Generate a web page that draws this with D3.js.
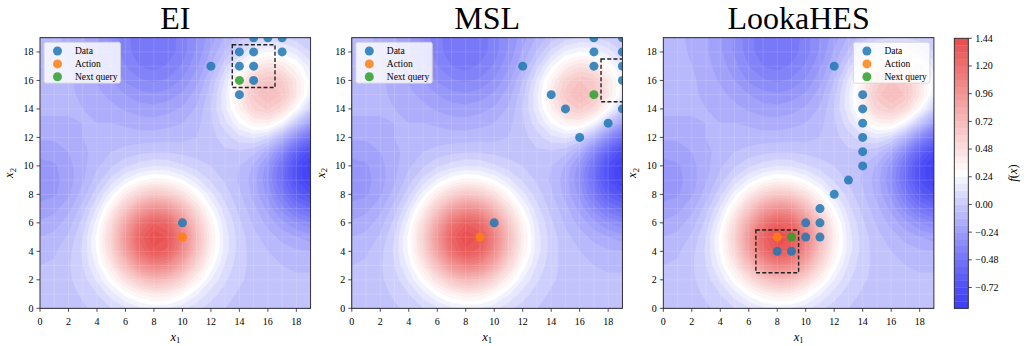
<!DOCTYPE html>
<html>
<head>
<meta charset="utf-8">
<script src="https://cdn.jsdelivr.net/npm/d3@7"></script>
<style>
  html, body { margin: 0; padding: 0; background: #fff; }
  svg { display: block; }
  text { font-family: "Liberation Serif", "DejaVu Serif", serif; fill: #000; }
</style>
</head>
<body>
<svg id="chart" width="1034" height="346"></svg>
<script>
// f(x) sampled on the integer grid x1 = 0..19 (columns), x2 = 0..19 (rows, bottom to top)
const fRows = [
  [-0.03,-0.03,-0.02,-0.01, 0.02, 0.06, 0.11, 0.16, 0.19, 0.18, 0.14, 0.08, 0.03, 0.00,-0.02,-0.03,-0.03,-0.03,-0.03,-0.03],
  [-0.03,-0.03,-0.02, 0.01, 0.06, 0.15, 0.26, 0.36, 0.41, 0.39, 0.30, 0.19, 0.09, 0.03,-0.01,-0.03,-0.03,-0.04,-0.04,-0.04],
  [-0.04,-0.04,-0.01, 0.03, 0.13, 0.28, 0.47, 0.64, 0.73, 0.69, 0.54, 0.35, 0.18, 0.07, 0.01,-0.02,-0.04,-0.04,-0.05,-0.05],
  [-0.06,-0.05,-0.01, 0.06, 0.20, 0.42, 0.70, 0.95, 1.08, 1.02, 0.81, 0.53, 0.28, 0.11, 0.02,-0.02,-0.04,-0.06,-0.07,-0.07],
  [-0.08,-0.07,-0.02, 0.07, 0.25, 0.53, 0.88, 1.20, 1.36, 1.29, 1.02, 0.67, 0.36, 0.15, 0.03,-0.03,-0.06,-0.09,-0.11,-0.12],
  [-0.12,-0.10,-0.05, 0.06, 0.26, 0.56, 0.94, 1.28, 1.44, 1.37, 1.09, 0.71, 0.38, 0.15, 0.03,-0.04,-0.09,-0.14,-0.18,-0.21],
  [-0.17,-0.15,-0.09, 0.02, 0.21, 0.50, 0.84, 1.15, 1.31, 1.24, 0.98, 0.64, 0.34, 0.13, 0.01,-0.07,-0.14,-0.22,-0.30,-0.35],
  [-0.22,-0.20,-0.14,-0.03, 0.13, 0.36, 0.63, 0.88, 1.00, 0.95, 0.75, 0.48, 0.25, 0.08,-0.02,-0.10,-0.20,-0.33,-0.46,-0.53],
  [-0.26,-0.25,-0.19,-0.09, 0.04, 0.21, 0.40, 0.56, 0.64, 0.60, 0.47, 0.30, 0.14, 0.03,-0.05,-0.14,-0.26,-0.44,-0.62,-0.72],
  [-0.27,-0.26,-0.21,-0.13,-0.03, 0.08, 0.19, 0.28, 0.33, 0.31, 0.24, 0.14, 0.05,-0.01,-0.07,-0.15,-0.30,-0.51,-0.72,-0.85],
  [-0.26,-0.25,-0.20,-0.14,-0.07,-0.01, 0.05, 0.09, 0.12, 0.11, 0.07, 0.03, 0.00,-0.03,-0.06,-0.13,-0.27,-0.49,-0.73,-0.87],
  [-0.22,-0.21,-0.18,-0.14,-0.09,-0.06,-0.04,-0.02,-0.01,-0.01,-0.02,-0.03,-0.03,-0.01,-0.01,-0.04,-0.15,-0.35,-0.59,-0.75],
  [-0.17,-0.17,-0.15,-0.12,-0.10,-0.09,-0.09,-0.09,-0.09,-0.08,-0.08,-0.06,-0.02, 0.03, 0.10, 0.13, 0.07,-0.10,-0.33,-0.51],
  [-0.13,-0.13,-0.13,-0.12,-0.12,-0.12,-0.13,-0.15,-0.15,-0.14,-0.12,-0.08,-0.01, 0.10, 0.24, 0.35, 0.36, 0.22,-0.01,-0.22],
  [-0.11,-0.11,-0.11,-0.12,-0.13,-0.16,-0.19,-0.21,-0.22,-0.20,-0.17,-0.11, 0.00, 0.16, 0.36, 0.55, 0.61, 0.51, 0.27, 0.03],
  [-0.09,-0.10,-0.11,-0.13,-0.16,-0.20,-0.24,-0.28,-0.29,-0.27,-0.23,-0.15,-0.02, 0.17, 0.41, 0.63, 0.73, 0.65, 0.43, 0.18],
  [-0.09,-0.10,-0.11,-0.14,-0.19,-0.24,-0.31,-0.35,-0.37,-0.35,-0.29,-0.20,-0.06, 0.13, 0.35, 0.56, 0.66, 0.61, 0.42, 0.21],
  [-0.09,-0.10,-0.12,-0.16,-0.21,-0.28,-0.36,-0.42,-0.44,-0.41,-0.35,-0.25,-0.12, 0.04, 0.22, 0.38, 0.47, 0.43, 0.30, 0.15],
  [-0.09,-0.10,-0.13,-0.17,-0.23,-0.31,-0.39,-0.46,-0.48,-0.45,-0.39,-0.29,-0.17,-0.05, 0.08, 0.19, 0.24, 0.22, 0.15, 0.06],
  [-0.09,-0.11,-0.13,-0.17,-0.23,-0.31,-0.40,-0.46,-0.48,-0.46,-0.39,-0.30,-0.21,-0.11,-0.03, 0.03, 0.07, 0.06, 0.03,-0.01]
];

const panelTitles = ["EI", "MSL", "LookaHES"];
const axisTicks = [0, 2, 4, 6, 8, 10, 12, 14, 16, 18];
const colorbarTicks = [-0.72, -0.48, -0.24, 0.00, 0.24, 0.48, 0.72, 0.96, 1.20, 1.44];
const legendLabels = ["Data", "Action", "Next query"];

// observed points, action and next query for each strategy
const eiData = [[15,19],[16,19],[17,19],[14,18],[15,18],[17,18],[12,17],[14,17],[15,17],[15,16],[14,15],[10,6]];
const eiAction = [10, 5];
const eiNext = [14, 16];
const eiBox = [13.5, 15.5, 16.5, 18.5];

const mslData = [[17,19],[19,19],[17,18],[19,18],[12,17],[17,17],[19,17],[19,16],[14,15],[15,14],[19,14],[18,13],[16,12],[10,6]];
const mslAction = [9, 5];
const mslNext = [17, 15];
const mslBox = [17.5, 14.5, 20.5, 17.5];

const lookaData = [[12,17],[14,15],[14,14],[14,13],[14,12],[14,11],[14,10],[13,9],[12,8],[11,7],[10,6],[11,6],[10,5],[11,5],[8,4],[9,4]];
const lookaAction = [8, 5];
const lookaNext = [9, 5];
const lookaBox = [6.5, 2.5, 9.5, 5.5];

const panels = [
  { title: panelTitles[0], data: eiData, action: eiAction, next: eiNext, box: eiBox, legend: "left" },
  { title: panelTitles[1], data: mslData, action: mslAction, next: mslNext, box: mslBox, legend: "left" },
  { title: panelTitles[2], data: lookaData, action: lookaAction, next: lookaNext, box: lookaBox, legend: "right" }
];

// ---- layout ----
const svg = d3.select("#chart");
const panelLeft = [40, 351.8, 663.3];
const plotTop = 37.7, plotSize = 270.6;
const cbar = { x: 954.3, w: 14, top: 38.3, bottom: 308.3 };
const pointColors = ["#1f77b4", "#ff7f0e", "#2ca02c"];

// contour levels and colours (blue - white - red, drawn semi-transparent over white)
const levels = d3.range(40).map(i => +(-0.90 + 0.06 * i).toFixed(2));
const vmin = levels[0], vmax = levels[levels.length - 1];
const blueEnd = d3.rgb(62, 62, 246), redEnd = d3.rgb(232, 76, 76), white = d3.rgb(255, 255, 255);
const cmap = t => {
  if (t < 0.5) return d3.interpolateRgb(blueEnd, white)(Math.pow(t / 0.5, 1.25));
  return d3.interpolateRgb(white, redEnd)((t - 0.5) / 0.5);
};
const bandColor = k => cmap(((levels[k] + levels[k + 1]) / 2 - vmin) / (vmax - vmin));

const nx = 20, ny = 20;
const gridValues = [];
for (let j = 0; j < ny; j++) for (let i = 0; i < nx; i++) gridValues.push(fRows[j][i]);
const contourGen = d3.contours().size([nx, ny]).thresholds(levels.slice(0, -1));
const contourSets = contourGen(gridValues);

panels.forEach((p, idx) => {
  const left = panelLeft[idx];
  const xs = d3.scaleLinear().domain([0, 19]).range([left, left + plotSize]);
  const ys = d3.scaleLinear().domain([0, 19]).range([plotTop + plotSize, plotTop]);
  const g = svg.append("g");
  const clipId = "clip" + idx;
  g.append("clipPath").attr("id", clipId).append("rect")
    .attr("x", left).attr("y", plotTop).attr("width", plotSize).attr("height", plotSize);

  const plot = g.append("g").attr("clip-path", `url(#${clipId})`);
  const proj = d3.geoTransform({
    point(x, y) { this.stream.point(xs(x - 0.5), ys(y - 0.5)); }
  });
  const path = d3.geoPath(proj);
  plot.append("g").selectAll("path").data(contourSets).join("path")
    .attr("d", path)
    .attr("fill", (d, k) => bandColor(k))
    .attr("stroke", (d, k) => bandColor(k))
    .attr("stroke-width", 0.3);

  // faint cell seams of the filled contour
  const seams = plot.append("g").attr("stroke", "#ffffff").attr("stroke-opacity", 0.16).attr("stroke-width", 0.9);
  d3.range(0, 19.01, 1).forEach(v => {
    seams.append("line").attr("x1", xs(v)).attr("x2", xs(v)).attr("y1", plotTop).attr("y2", plotTop + plotSize);
    seams.append("line").attr("y1", ys(v)).attr("y2", ys(v)).attr("x1", left).attr("x2", left + plotSize);
  });

  // markers
  const r = 4.5;
  plot.append("g").selectAll("circle").data(p.data).join("circle")
    .attr("cx", d => xs(d[0])).attr("cy", d => ys(d[1])).attr("r", r)
    .attr("fill", pointColors[0]).attr("fill-opacity", 0.85);
  plot.append("circle").attr("cx", xs(p.action[0])).attr("cy", ys(p.action[1])).attr("r", r)
    .attr("fill", pointColors[1]).attr("fill-opacity", 0.85);
  plot.append("circle").attr("cx", xs(p.next[0])).attr("cy", ys(p.next[1])).attr("r", r)
    .attr("fill", pointColors[2]).attr("fill-opacity", 0.85);

  // dashed neighbourhood box
  const [bx0, by0, bx1, by1] = p.box;
  plot.append("rect")
    .attr("x", xs(bx0)).attr("y", ys(by1))
    .attr("width", xs(bx1) - xs(bx0)).attr("height", ys(by0) - ys(by1))
    .attr("fill", "none").attr("stroke", "#222").attr("stroke-width", 1.4)
    .attr("stroke-dasharray", "4,2.2");

  // frame
  g.append("rect").attr("x", left).attr("y", plotTop).attr("width", plotSize).attr("height", plotSize)
    .attr("fill", "none").attr("stroke", "#222").attr("stroke-width", 0.9);

  // ticks
  const tk = g.append("g").attr("stroke", "#222").attr("stroke-width", 0.8);
  axisTicks.forEach(t => {
    tk.append("line").attr("x1", xs(t)).attr("x2", xs(t)).attr("y1", plotTop + plotSize).attr("y2", plotTop + plotSize + 3.5);
    tk.append("line").attr("y1", ys(t)).attr("y2", ys(t)).attr("x1", left).attr("x2", left - 3.5);
  });
  g.append("g").selectAll("text.xt").data(axisTicks).join("text")
    .attr("x", d => xs(d)).attr("y", plotTop + plotSize + 16.5)
    .attr("text-anchor", "middle").attr("font-size", 10).text(d => d);
  g.append("g").selectAll("text.yt").data(axisTicks).join("text")
    .attr("x", left - 6.5).attr("y", d => ys(d) + 3.4)
    .attr("text-anchor", "end").attr("font-size", 10).text(d => d);

  // axis labels
  const xl = g.append("text").attr("x", left + plotSize / 2).attr("y", 340.5).attr("text-anchor", "middle").attr("font-size", 12.5);
  xl.append("tspan").attr("font-style", "italic").text("x");
  xl.append("tspan").attr("font-size", 8.5).attr("dy", 2.5).text("1");
  const yl = g.append("text").attr("transform", `translate(${left - 27},${plotTop + plotSize / 2}) rotate(-90)`)
    .attr("text-anchor", "middle").attr("font-size", 12.5);
  yl.append("tspan").attr("font-style", "italic").text("x");
  yl.append("tspan").attr("font-size", 8.5).attr("dy", 2.5).text("2");

  // title
  g.append("text").attr("x", left + plotSize / 2).attr("y", 28.5).attr("text-anchor", "middle")
    .attr("font-size", 32).text(p.title);

  // legend
  const lw = 76.5, lh = 41;
  const lx = p.legend === "left" ? left + 4 : left + plotSize - 4 - lw;
  const ly = plotTop + 4.5;
  const lg = g.append("g");
  lg.append("rect").attr("x", lx).attr("y", ly).attr("width", lw).attr("height", lh).attr("rx", 2)
    .attr("fill", "#fff").attr("fill-opacity", 0.8).attr("stroke", "#d0d0d0").attr("stroke-width", 0.8);
  legendLabels.forEach((lab, i) => {
    const cy = ly + 8.8 + i * 12.9;
    lg.append("circle").attr("cx", lx + 13.5).attr("cy", cy).attr("r", 4.5)
      .attr("fill", pointColors[i]).attr("fill-opacity", 0.85);
    lg.append("text").attr("x", lx + 31).attr("y", cy + 3.2).attr("font-size", 9.5).text(lab);
  });
});

// ---- colorbar ----
const cs = d3.scaleLinear().domain([vmin, vmax]).range([cbar.bottom, cbar.top]);
const cb = svg.append("g");
cb.selectAll("rect.band").data(d3.range(levels.length - 1)).join("rect")
  .attr("x", cbar.x).attr("width", cbar.w)
  .attr("y", k => cs(levels[k + 1])).attr("height", k => cs(levels[k]) - cs(levels[k + 1]) + 0.3)
  .attr("fill", k => bandColor(k));
cb.append("rect").attr("x", cbar.x).attr("y", cbar.top).attr("width", cbar.w).attr("height", cbar.bottom - cbar.top)
  .attr("fill", "none").attr("stroke", "#222").attr("stroke-width", 0.9);
const fmt = v => (v < 0 ? "\u2212" : "") + Math.abs(v).toFixed(2);
colorbarTicks.forEach(t => {
  cb.append("line").attr("x1", cbar.x + cbar.w).attr("x2", cbar.x + cbar.w + 3.5)
    .attr("y1", cs(t)).attr("y2", cs(t)).attr("stroke", "#222").attr("stroke-width", 0.8);
  cb.append("text").attr("x", cbar.x + cbar.w + 7).attr("y", cs(t) + 3.4).attr("font-size", 10).text(fmt(t));
});
const cl = cb.append("text").attr("transform", `translate(1017,173) rotate(-90)`).attr("text-anchor", "middle").attr("font-size", 12.5);
cl.append("tspan").attr("font-style", "italic").text("f");
cl.append("tspan").text("(");
cl.append("tspan").attr("font-style", "italic").text("x");
cl.append("tspan").text(")");
</script>
</body>
</html>
